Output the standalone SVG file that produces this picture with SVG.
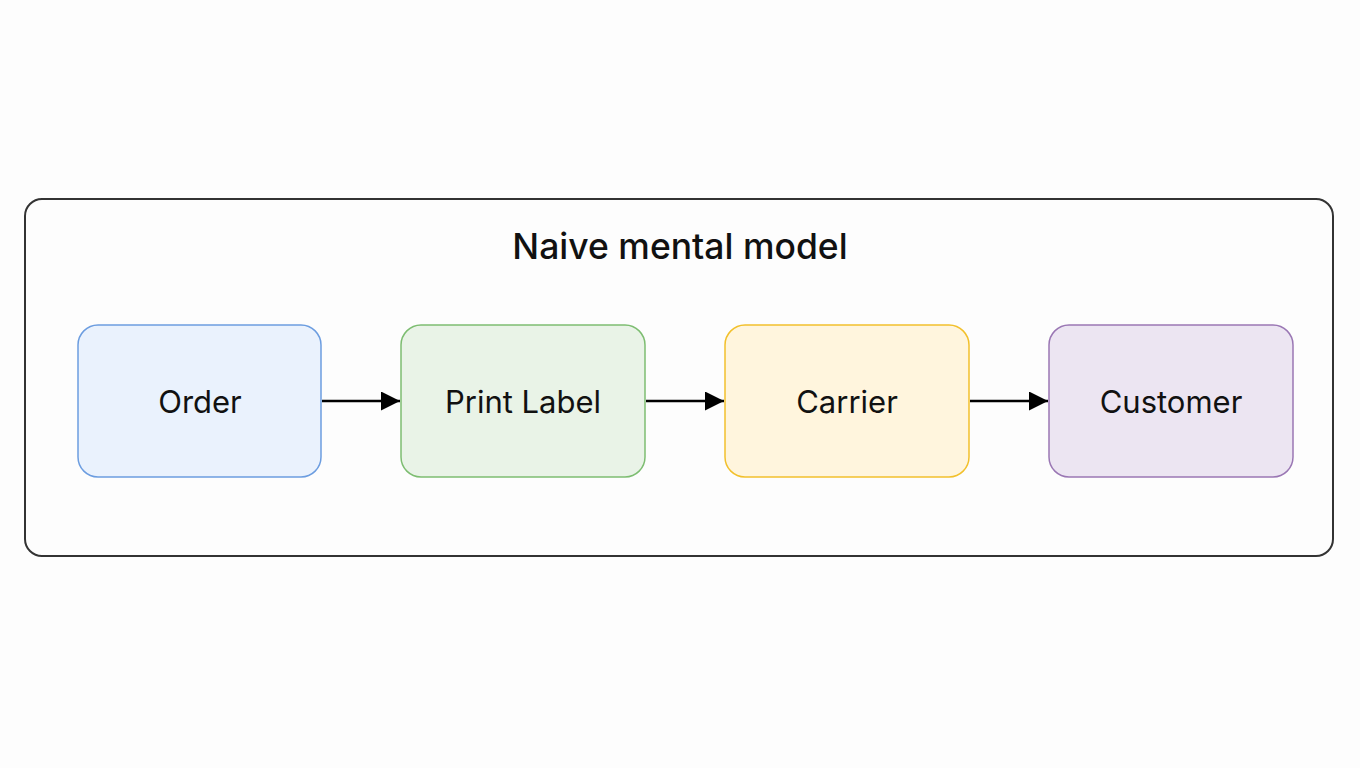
<svg xmlns="http://www.w3.org/2000/svg" width="1360" height="768" viewBox="0 0 1360 768">
<style>
.node rect{stroke-width:1.5}
.lbl{font-family:Inter,"Liberation Sans",sans-serif;font-size:31px;fill:#111;text-anchor:middle;dominant-baseline:central}
.title{font-family:Inter,"Liberation Sans",sans-serif;font-size:35.5px;font-weight:500;fill:#111;text-anchor:middle}
.conn{stroke:#000;stroke-width:2.5;fill:none;marker-end:url(#ah)}
</style>
<defs>
<marker id="ah" viewBox="0 0 10 10" refX="10" refY="5" markerWidth="7.6" markerHeight="7.6" markerUnits="strokeWidth" orient="auto">
<path d="M0,0 L10,5 L0,10 z" fill="#000"/>
</marker>
</defs>
<rect width="1360" height="768" fill="#fdfdfd"/>
<g id="frame">
<rect x="25" y="199" width="1308" height="357" rx="17" fill="#fdfdfd" stroke="#333" stroke-width="2"/>
<text class="title" x="680" y="259">Naive mental model</text>
</g>
<g id="order" class="node">
<rect x="78" y="325" width="243" height="152" rx="20" fill="#eaf2fd" stroke="#6c9de0"/>
<text class="lbl" x="200" y="401">Order</text>
</g>
<g id="print-label" class="node">
<rect x="401" y="325" width="244" height="152" rx="20" fill="#e9f3e7" stroke="#7dbd71"/>
<text class="lbl" x="523" y="401">Print Label</text>
</g>
<g id="carrier" class="node">
<rect x="725" y="325" width="244" height="152" rx="20" fill="#fff5dd" stroke="#f2c02c"/>
<text class="lbl" x="847" y="401">Carrier</text>
</g>
<g id="customer" class="node">
<rect x="1049" y="325" width="244" height="152" rx="20" fill="#ece5f2" stroke="#9a77b4"/>
<text class="lbl" x="1171" y="401">Customer</text>
</g>
<g id="connectors">
<line class="conn" x1="322" y1="401" x2="400" y2="401"/>
<line class="conn" x1="646" y1="401" x2="724" y2="401"/>
<line class="conn" x1="970" y1="401" x2="1048" y2="401"/>
</g>
</svg>
